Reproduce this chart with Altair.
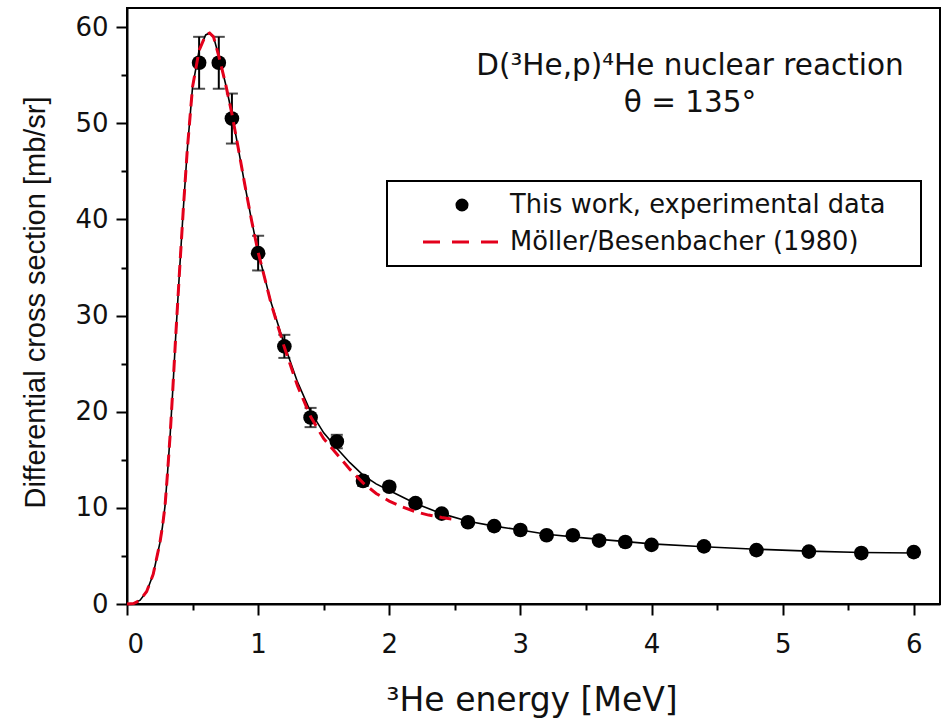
import altair as alt
import pandas as pd

# ---- data ----
exp_x = [0.55, 0.7, 0.8, 1.0, 1.2, 1.4, 1.6, 1.8, 2.0, 2.2, 2.4, 2.6, 2.8, 3.0,
         3.2, 3.4, 3.6, 3.8, 4.0, 4.4, 4.8, 5.2, 5.6, 6.0]
exp_y = [56.3, 56.3, 50.5, 36.5, 26.8, 19.4, 16.9, 12.8, 12.2, 10.5, 9.4, 8.5, 8.1, 7.7,
         7.15, 7.15, 6.6, 6.45, 6.15, 6.0, 5.6, 5.45, 5.3, 5.4]
exp_err = [2.7, 2.7, 2.6, 1.8, 1.2, 1.0, 0.7, 0.5, 0.4, 0.4, 0.3, 0.3, 0.3, 0.3,
           0.3, 0.3, 0.2, 0.2, 0.2, 0.2, 0.2, 0.2, 0.2, 0.2]

fit_x = [0.0, 0.05, 0.1, 0.15, 0.2, 0.25, 0.27, 0.29, 0.31, 0.33, 0.35, 0.37, 0.4, 0.43,
         0.46, 0.5, 0.55, 0.6, 0.63, 0.66, 0.7, 0.75, 0.8, 0.85, 0.9, 0.95, 1.0, 1.1,
         1.2, 1.3, 1.4, 1.5, 1.6, 1.7, 1.8, 1.9, 2.0, 2.2, 2.4, 2.6, 2.8, 3.0, 3.2,
         3.5, 4.0, 4.4, 4.8, 5.2, 5.6, 6.0]
fit_y = [0.0, 0.05, 0.4, 1.3, 3.1, 6.3, 8.0, 10.2, 13.8, 17.8, 22.5, 27.5, 34.5, 41.2,
         47.3, 53.8, 57.6, 59.2, 59.4, 59.0, 57.0, 54.2, 51.0, 47.3, 43.5, 39.9, 36.6, 31.3,
         27.0, 23.1, 20.0, 17.8, 16.2, 14.7, 13.4, 12.5, 11.8, 10.45, 9.4, 8.6, 8.1, 7.7, 7.25,
         6.85, 6.25, 5.95, 5.7, 5.5, 5.35, 5.3]

mb_x = [0.0, 0.05, 0.1, 0.15, 0.2, 0.25, 0.27, 0.29, 0.31, 0.33, 0.35, 0.37, 0.4, 0.43,
        0.46, 0.5, 0.55, 0.6, 0.63, 0.66, 0.7, 0.75, 0.8, 0.85, 0.9, 0.95, 1.0, 1.1,
        1.2, 1.3, 1.4, 1.5, 1.6, 1.7, 1.8, 1.9, 2.0, 2.1, 2.2, 2.3, 2.4, 2.5]
mb_y = [0.0, 0.05, 0.4, 1.3, 3.1, 6.3, 8.0, 10.2, 13.8, 17.8, 22.5, 27.5, 34.5, 41.2,
        47.3, 53.8, 57.6, 59.2, 59.4, 59.0, 57.0, 54.2, 51.0, 47.3, 43.5, 39.9, 36.6, 31.2,
        26.7, 22.7, 19.5, 17.2, 15.6, 14.0, 12.6, 11.5, 10.7, 10.1, 9.6, 9.25, 9.0, 8.8]

x_ticks = [0, 0.5, 1, 1.5, 2, 2.5, 3, 3.5, 4, 4.5, 5, 5.5, 6]
y_ticks = [0, 5, 10, 15, 20, 25, 30, 35, 40, 45, 50, 55, 60]

annot_text = ["D(³He,p)⁴He nuclear reaction", "θ = 135°"]
legend_text = ["This work, experimental data", "Möller/Besenbacher (1980)"]

exp = pd.DataFrame({"E": exp_x, "S": exp_y,
                    "lo": [a - b for a, b in zip(exp_y, exp_err)],
                    "hi": [a + b for a, b in zip(exp_y, exp_err)]})
fit = pd.DataFrame({"E": fit_x, "S": fit_y})
mb = pd.DataFrame({"E": mb_x, "S": mb_y})

W, H = 813, 596
FONT = "DejaVu Sans"

xscale = alt.Scale(domain=[0, 6.2], nice=False, zero=False)
yscale = alt.Scale(domain=[0, 62], nice=False, zero=False)

xaxis = alt.Axis(values=x_ticks, grid=False,
                 labelExpr="datum.value % 1 === 0 ? format(datum.value, 'd') : ''",
                 tickSize={"condition": {"test": "datum.value % 1 === 0", "value": 11}, "value": 6},
                 tickWidth=2, tickColor="black", domainColor="black", domainWidth=2,
                 labelFont=FONT, labelFontSize=26, labelColor="#111", labelPadding=16,
                 title="³He energy [MeV]", titleFont=FONT, titleFontSize=33,
                 titleFontWeight="normal", titleColor="#111",
                 titleBaseline="alphabetic", titleY=106, titleX=W / 2 - 2)
yaxis = alt.Axis(values=y_ticks, grid=False,
                 labelExpr="datum.value % 10 === 0 ? format(datum.value, 'd') : ''",
                 tickSize={"condition": {"test": "datum.value % 10 === 0", "value": 11}, "value": 6},
                 tickWidth=2, tickColor="black", domainColor="black", domainWidth=2,
                 labelFont=FONT, labelFontSize=26, labelColor="#111", labelPadding=8,
                 title="Differential cross section [mb/sr]", titleFont="Liberation Sans",
                 titleFontSize=29, titleFontWeight="normal", titleColor="#111",
                 titleAngle=270, titleBaseline="middle", titleAlign="center",
                 titleX=-92, titleY=H / 2 - 4)

X = alt.X("E:Q", scale=xscale, axis=xaxis)
Y = alt.Y("S:Q", scale=yscale, axis=yaxis)

base = alt.Chart(exp)
stems = base.mark_rule(color="black", strokeWidth=2).encode(
    x=alt.X("E:Q", scale=xscale), y=alt.Y("lo:Q", scale=yscale), y2="hi:Q")
cap_lo = base.mark_tick(orient="horizontal", size=12, thickness=2, color="black").encode(
    x=alt.X("E:Q", scale=xscale), y=alt.Y("lo:Q", scale=yscale))
cap_hi = base.mark_tick(orient="horizontal", size=12, thickness=2, color="black").encode(
    x=alt.X("E:Q", scale=xscale), y=alt.Y("hi:Q", scale=yscale))
points = base.mark_circle(size=215, color="black", opacity=1).encode(x=X, y=Y)

fit_line = alt.Chart(fit).mark_line(color="black", strokeWidth=1.6).encode(
    x=alt.X("E:Q", scale=xscale), y=alt.Y("S:Q", scale=yscale))
mb_line = alt.Chart(mb).mark_line(color="#e3001b", strokeWidth=3, strokeDash=[12, 7]).encode(
    x=alt.X("E:Q", scale=xscale), y=alt.Y("S:Q", scale=yscale))

annot = pd.DataFrame({"t": annot_text, "py": [58, 95]})
annot_layer = alt.Chart(annot).mark_text(font=FONT, fontSize=29.5, color="#111",
                                         align="center", baseline="middle").encode(
    text="t:N", x=alt.value(563), y=alt.Y("py:Q", scale=None))

box = alt.Chart(pd.DataFrame({"a": [0]})).mark_rect(fill="white", stroke="black",
                                                    strokeWidth=2).encode(
    x=alt.value(260), x2=alt.value(794), y=alt.value(173), y2=alt.value(258))
leg_dot = alt.Chart(pd.DataFrame({"a": [0]})).mark_circle(size=170, color="black",
                                                         opacity=1).encode(
    x=alt.value(335), y=alt.value(197))
leg_dash = alt.Chart(pd.DataFrame({"a": [0]})).mark_rule(color="#e3001b", strokeWidth=3,
                                                        strokeDash=[17, 12]).encode(
    x=alt.value(296), x2=alt.value(373), y=alt.value(234))
leg = pd.DataFrame({"t": legend_text, "py": [197, 234]})
leg_text = alt.Chart(leg).mark_text(font=FONT, fontSize=25.7, color="#111",
                                    align="left", baseline="middle").encode(
    text="t:N", x=alt.value(383), y=alt.Y("py:Q", scale=None))

chart = alt.layer(stems, cap_lo, cap_hi, points, fit_line, mb_line,
                  annot_layer, box, leg_dot, leg_dash, leg_text).properties(
    width=W, height=H,
    autosize=alt.AutoSizeParams(type="none"),
    padding={"left": 127, "top": 8, "right": 2, "bottom": 114},
    background="white",
).configure_view(stroke="black", strokeWidth=2)

chart.save("out.html", embed_options={"renderer": "svg", "actions": False})
